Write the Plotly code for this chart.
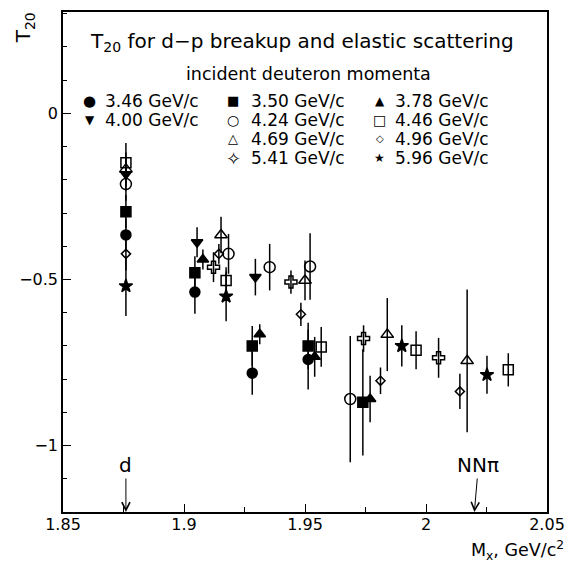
import plotly.graph_objects as go

# T20 for d-p breakup and elastic scattering, grouped by incident deuteron momentum.
# Mx in GeV/c^2, T20 value and its error.
mx_346 = [1.876, 1.9045, 1.9282, 1.9513]
t20_346 = [-0.366, -0.538, -0.782, -0.741]
err_346 = [0.05, 0.065, 0.065, 0.09]

mx_350 = [1.876, 1.9045, 1.9282, 1.9513, 1.9739]
t20_350 = [-0.296, -0.48, -0.70, -0.70, -0.87]
err_350 = [0.05, 0.05, 0.06, 0.07, 0.16]

mx_378 = [1.9078, 1.9313, 1.954, 1.9769]
t20_378 = [-0.44, -0.665, -0.733, -0.86]
err_378 = [0.03, 0.03, 0.06, 0.07]

mx_400 = [1.876, 1.9054, 1.9295]
t20_400 = [-0.183, -0.388, -0.493]
err_400 = [0.05, 0.045, 0.055]

mx_424 = [1.876, 1.9184, 1.9354, 1.9521, 1.9687]
t20_424 = [-0.213, -0.423, -0.463, -0.461, -0.86]
err_424 = [0.05, 0.06, 0.07, 0.10, 0.19]

mx_446 = [1.876, 1.9174, 1.9567, 1.9959, 2.034]
t20_446 = [-0.149, -0.503, -0.703, -0.713, -0.772]
err_446 = [0.06, 0.04, 0.06, 0.057, 0.05]

mx_469 = [1.876, 1.9153, 1.950, 1.984, 2.017]
t20_469 = [-0.168, -0.366, -0.503, -0.666, -0.745]
err_469 = [0.05, 0.055, 0.06, 0.11, 0.215]

mx_496 = [1.876, 1.9144, 1.9483, 1.9812, 2.014]
t20_496 = [-0.423, -0.423, -0.605, -0.805, -0.837]
err_496 = [0.05, 0.03, 0.035, 0.04, 0.053]

mx_541 = [1.9122, 1.9442, 1.9742, 2.0052]
t20_541 = [-0.463, -0.508, -0.678, -0.736]
err_541 = [0.045, 0.035, 0.04, 0.06]

mx_596 = [1.876, 1.9174, 1.990, 2.0252]
t20_596 = [-0.52, -0.551, -0.70, -0.787]
err_596 = [0.09, 0.075, 0.062, 0.057]

momenta = ["3.46 GeV/c", "3.50 GeV/c", "3.78 GeV/c", "4.00 GeV/c", "4.24 GeV/c",
           "4.46 GeV/c", "4.69 GeV/c", "4.96 GeV/c", "5.41 GeV/c", "5.96 GeV/c"]

# thresholds marked on the Mx axis
threshold_mx = [1.876, 2.020]
threshold_labels = ["d", "NNπ"]

x_range = [1.85, 2.05]
y_range = [-1.2, 0.305]

FONT = "DejaVu Sans"
W, H = 575, 564
ML, MR, MT, MB = 63, 23, 10, 52
PW, PH = W - ML - MR, H - MT - MB


def px_x(px):
    return (px - ML) / PW


def px_y(py):
    return (H - MB - py) / PH


def label(text, x, y, size, xanchor="center", **kw):
    return dict(text=text, x=px_x(x), y=px_y(y), xref="paper", yref="paper",
                xanchor=xanchor, yanchor="middle", showarrow=False,
                font=dict(family=FONT, size=size, color="black"), **kw)


series = [
    # data, marker symbol, marker size, legend glyph, glyph size, legend column, row
    ((mx_346, t20_346, err_346), "circle", 10, "\u25CF", 15, 0, 0),
    ((mx_350, t20_350, err_350), "square", 10, "\u25A0", 13, 1, 0),
    ((mx_378, t20_378, err_378), "triangle-up", 10, "\u25B2", 12, 2, 0),
    ((mx_400, t20_400, err_400), "triangle-down", 10, "\u25BC", 12, 0, 1),
    ((mx_424, t20_424, err_424), "circle-open", 11, "\u25CB", 14, 1, 1),
    ((mx_446, t20_446, err_446), "square-open", 10, "\u25A1", 14, 2, 1),
    ((mx_469, t20_469, err_469), "triangle-up-open", 11, "\u25B3", 13, 1, 2),
    ((mx_496, t20_496, err_496), "diamond-open", 7, "\u25C7", 10, 2, 2),
    ((mx_541, t20_541, err_541), "cross-open", 10, "\u2727", 18, 1, 3),
    ((mx_596, t20_596, err_596), "star", 10, "\u2605", 12, 2, 3),
]

fig = go.Figure()

for (xs, ys, es), sym, size, _, _, _, _ in series:
    fig.add_trace(go.Scatter(
        x=xs, y=ys, mode="markers", showlegend=False,
        error_y=dict(type="data", array=es, visible=True, color="black",
                     thickness=1.5, width=0),
        marker=dict(symbol=sym, size=size, color="black",
                    line=dict(color="black", width=1.5)),
    ))

annotations = [
    label("T<sub>20</sub> for d\u2212p breakup and elastic scattering", 304, 40, 20),
    label("incident deuteron momenta", 311, 72, 17.5),
]

# legend laid out in three columns
col_sym = [90, 235, 383]
col_txt = [103, 251, 396]
row_y = [99, 118.3, 137.3, 156.7]
for text, (_, _, _, glyph, gsize, col, row) in zip(momenta, series):
    annotations.append(label(glyph, col_sym[col], row_y[row], gsize))
    annotations.append(label(text, col_txt[col], row_y[row], 17, xanchor="left"))

# threshold arrows
for mx, lab in zip(threshold_mx, threshold_labels):
    annotations.append(dict(
        text=lab, x=mx, y=y_range[0], xref="x", yref="y",
        showarrow=True, arrowhead=5, arrowsize=1.6, arrowwidth=1,
        arrowcolor="black", ax=0 if lab == "d" else 4, ay=-47, standoff=0,
        font=dict(family=FONT, size=20, color="black")))

# axis titles
annotations.append(label("T<sub>20</sub>", 24, 26, 20, textangle=-90))
annotations.append(label("M<sub>x</sub>, GeV/c<sup>2</sup>", 571, 551, 17.5,
                         xanchor="right"))

axis_common = dict(
    showline=True, linecolor="black", linewidth=1.5, mirror=True,
    showgrid=False, zeroline=False, ticks="inside", tickcolor="black",
    tickwidth=1.2, ticklen=8,
    tickfont=dict(family=FONT, size=16, color="black"),
)

fig.update_layout(
    width=W, height=H,
    margin=dict(l=ML, r=MR, t=MT, b=MB),
    paper_bgcolor="white", plot_bgcolor="white",
    xaxis=dict(range=x_range, dtick=0.05, tick0=1.85, ticklabelstandoff=-3,
               minor=dict(dtick=0.025, ticks="inside", ticklen=5,
                          tickcolor="black", tickwidth=1.2),
               **axis_common),
    yaxis=dict(range=y_range, dtick=0.5, tick0=0,
               minor=dict(dtick=0.1, ticks="inside", ticklen=4,
                          tickcolor="black", tickwidth=1.2),
               **axis_common),
    annotations=annotations,
)

fig.write_html("out.html")
